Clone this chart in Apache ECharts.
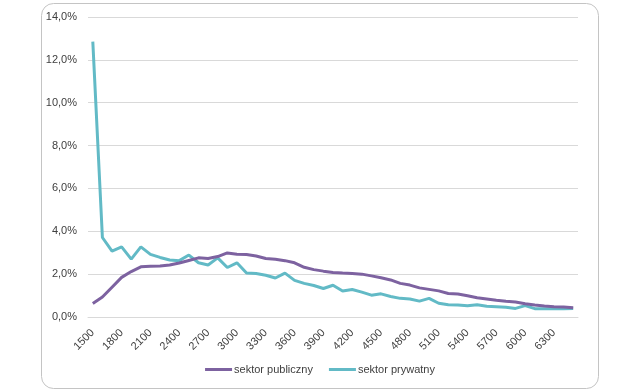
<!DOCTYPE html>
<html>
<head>
<meta charset="utf-8">
<script src="https://cdn.jsdelivr.net/npm/echarts@6/dist/echarts.min.js"></script>
<style>
html,body{margin:0;padding:0;background:#fff;}
#chart{width:640px;height:392px;}
</style>
</head>
<body>
<div id="chart"></div>
<script>
var categories = ['1500','1600','1700','1800','1900','2000','2100','2200','2300','2400',
  '2500','2600','2700','2800','2900','3000','3100','3200','3300','3400',
  '3500','3600','3700','3800','3900','4000','4100','4200','4300','4400',
  '4500','4600','4700','4800','4900','5000','5100','5200','5300','5400',
  '5500','5600','5700','5800','5900','6000','6100','6200','6300','6400','6500'];

var publicSector = [0.63,0.93,1.39,1.85,2.12,2.34,2.37,2.38,2.43,2.52,
  2.64,2.76,2.73,2.82,2.99,2.93,2.92,2.85,2.73,2.69,
  2.63,2.53,2.32,2.21,2.14,2.08,2.05,2.03,2.00,1.92,
  1.83,1.73,1.57,1.49,1.36,1.29,1.22,1.10,1.07,0.99,
  0.90,0.84,0.78,0.73,0.70,0.62,0.56,0.51,0.48,0.47,0.43];

var privateSector = [12.85,3.71,3.07,3.27,2.70,3.27,2.92,2.78,2.66,2.63,
  2.89,2.53,2.43,2.76,2.31,2.53,2.05,2.03,1.95,1.82,
  2.05,1.71,1.57,1.47,1.33,1.48,1.21,1.28,1.16,1.02,
  1.08,0.96,0.87,0.84,0.74,0.87,0.64,0.57,0.56,0.53,
  0.57,0.50,0.48,0.45,0.40,0.53,0.39,0.39,0.39,0.39,0.40];

var seriesNames = ['sektor publiczny','sektor prywatny'];
var yTicks = {min:0, max:14, step:2};

var chart = echarts.init(document.getElementById('chart'), null, {renderer:'canvas'});
var font = 'Liberation Sans, Arial, sans-serif';
chart.setOption({
  animation:false,
  backgroundColor:'#ffffff',
  graphic:[{
    type:'rect', left:41, top:3, z:-10,
    shape:{width:557, height:385, r:12},
    style:{fill:'#ffffff', stroke:'#c4c4c4', lineWidth:1}
  }],
  grid:{left:88, right:62, top:17, bottom:75, containLabel:false},
  legend:{
    bottom:12, left:'center',
    icon:'rect', itemWidth:27, itemHeight:3, itemGap:16,
    textStyle:{fontFamily:font, fontSize:11, color:'#404040', padding:[0,0,0,-3]},
    data:seriesNames
  },
  xAxis:{
    type:'category', data:categories, boundaryGap:true,
    axisLine:{show:true, lineStyle:{color:'#d9d9d9', width:1}},
    axisTick:{show:false},
    axisLabel:{interval:2, rotate:45, fontFamily:font, fontSize:11, color:'#404040', margin:14}
  },
  yAxis:{
    type:'value', min:yTicks.min, max:yTicks.max, interval:yTicks.step,
    axisLine:{show:false}, axisTick:{show:false},
    splitLine:{lineStyle:{color:'#d9d9d9', width:1}},
    axisLabel:{fontFamily:font, fontSize:11, color:'#404040', margin:11,
      formatter:function(v){return v.toFixed(1).replace('.',',')+'%';}}
  },
  series:[
    {name:seriesNames[0], type:'line', data:publicSector, symbol:'none', smooth:false,
     itemStyle:{color:'#7d62a0'}, lineStyle:{color:'#7d62a0', width:3}, z:3},
    {name:seriesNames[1], type:'line', data:privateSector, symbol:'none', smooth:false,
     itemStyle:{color:'#62bac6'}, lineStyle:{color:'#62bac6', width:3}, z:2}
  ]
});
</script>
</body>
</html>
